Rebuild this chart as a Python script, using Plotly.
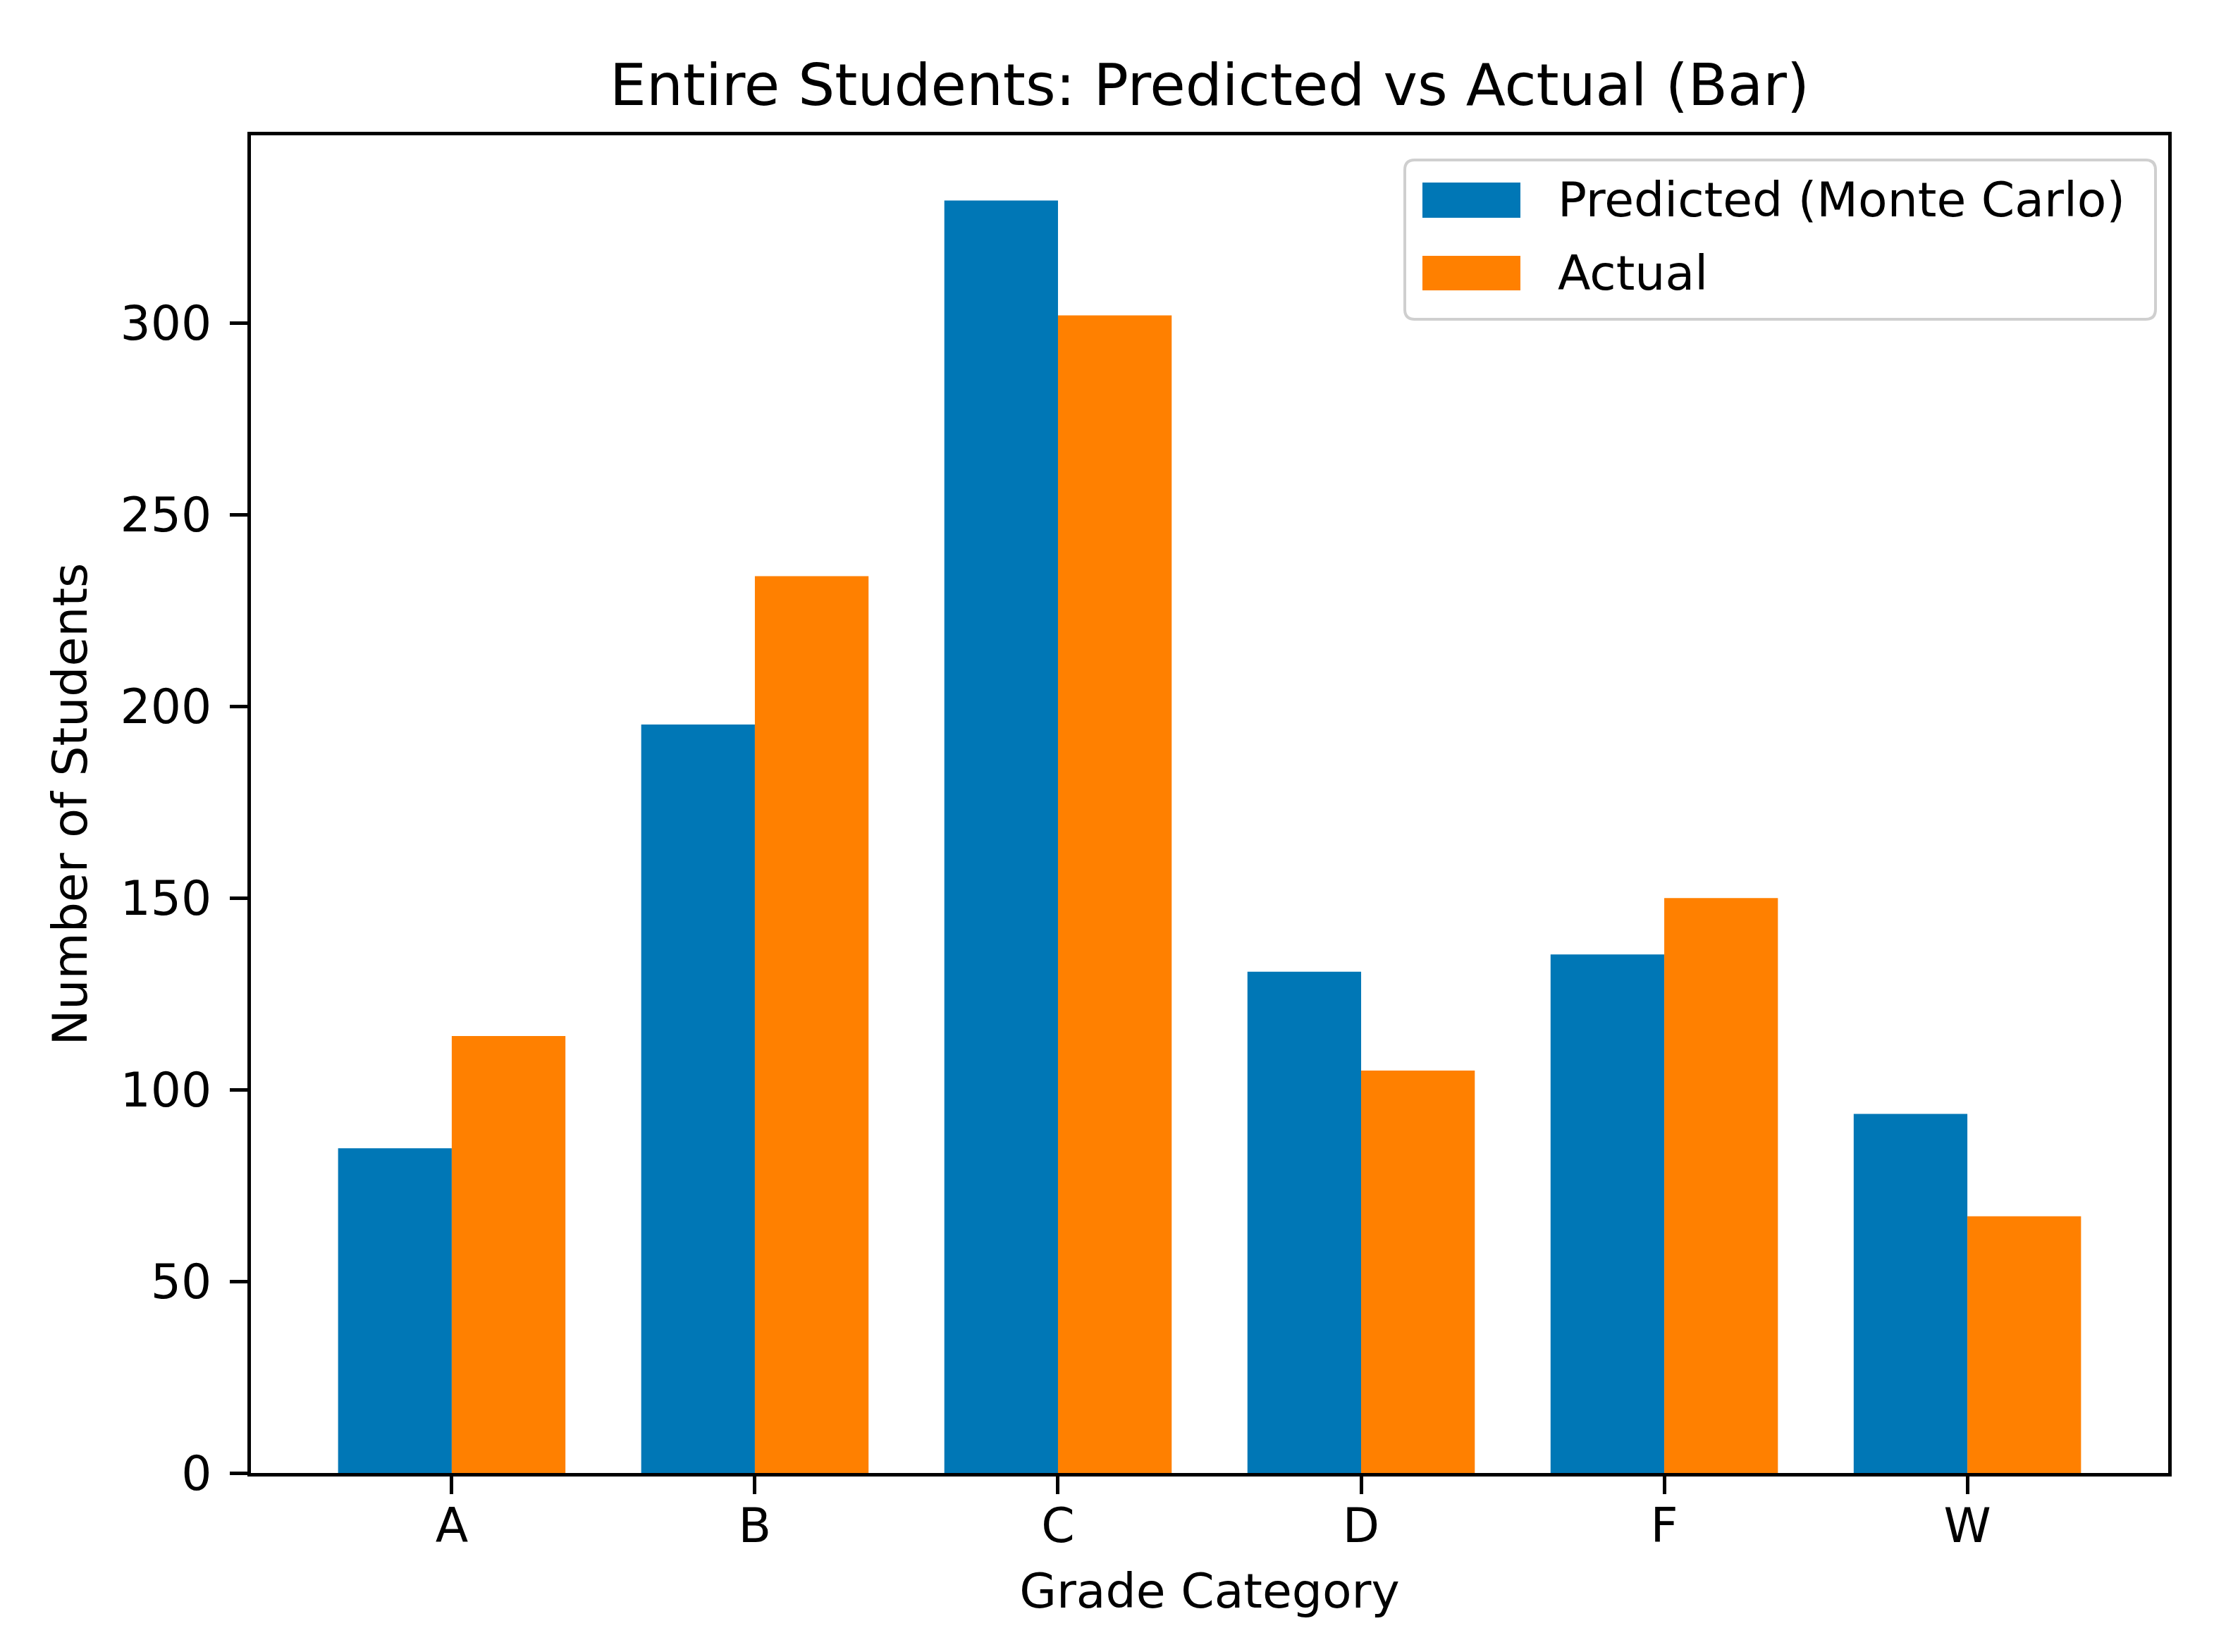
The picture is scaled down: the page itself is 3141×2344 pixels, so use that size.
import plotly.graph_objects as go

# ---- data ----
categories = ["A", "B", "C", "D", "F", "W"]
predicted = [84.7, 195.3, 332.0, 130.8, 135.3, 93.7]
actual = [114, 234, 302, 105, 150, 67]
series_names = ["Predicted (Monte Carlo)", "Actual"]
series_colors = ["#0077B6", "#FF8000"]
y_ticks = [0, 50, 100, 150, 200, 250, 300]

# ---- layout geometry (pixels) ----
W, H = 3141, 2344
L, R, T, B = 356, 3076, 192, 2090
FONT = "DejaVu Sans"
FS = 68


def px(x):
    return (x - L) / (R - L)


def py(y):
    return (B - y) / (B - T)


fig = go.Figure()
bar_w = 0.375
for vals, name, color, off in zip([predicted, actual], series_names, series_colors, [-bar_w, 0.0]):
    fig.add_trace(go.Bar(
        x=categories, y=vals, name=name,
        marker=dict(color=color, line=dict(width=0)),
        width=bar_w, offset=off, showlegend=False,
    ))

axis_common = dict(
    showline=True, mirror=True, linecolor="black", linewidth=5,
    ticks="outside", ticklen=25, tickwidth=5, tickcolor="black",
    tickfont=dict(family=FONT, size=FS, color="black"),
    showgrid=False, zeroline=False,
)

fig.update_layout(
    width=W, height=H,
    margin=dict(l=L, r=W - R, t=T, b=H - B, pad=0),
    paper_bgcolor="white", plot_bgcolor="white",
    barmode="overlay",
    font=dict(family=FONT, color="black"),
    title=dict(text="Entire Students: Predicted vs Actual (Bar)",
               font=dict(family=FONT, size=82, color="black"),
               x=0.5, xref="paper", xanchor="center",
               y=1 - 120 / H, yref="container", yanchor="middle"),
    xaxis=dict(type="category", range=[-0.6625, 5.6625], ticklabelstandoff=-14,
               title=dict(text="Grade Category", font=dict(family=FONT, size=FS, color="black"), standoff=32),
               **axis_common),
    yaxis=dict(range=[0, 349], tickvals=y_ticks, ticktext=[str(v) for v in y_ticks],
               ticklabelstandoff=12,
               title=dict(text="Number of Students", font=dict(family=FONT, size=FS, color="black"), standoff=26),
               **axis_common),
    showlegend=False,
)

# ---- legend (drawn manually to match the large swatches) ----
bx0, bx1, by0, by1 = 1993, 3058, 227, 453
rad = 14
x0, x1 = px(bx0), px(bx1)
y0, y1 = py(by1), py(by0)
rx = rad / (R - L)
ry = rad / (B - T)
path = (f"M {x0+rx},{y0} L {x1-rx},{y0} Q {x1},{y0} {x1},{y0+ry} "
        f"L {x1},{y1-ry} Q {x1},{y1} {x1-rx},{y1} L {x0+rx},{y1} "
        f"Q {x0},{y1} {x0},{y1-ry} L {x0},{y0+ry} Q {x0},{y0} {x0+rx},{y0} Z")
fig.add_shape(type="path", path=path, xref="paper", yref="paper",
              line=dict(color="#cfcfcf", width=4), fillcolor="rgba(255,255,255,0.85)", layer="above")

sw_rows = [(259, 309), (363, 412)]
for (ya, yb), name, color in zip(sw_rows, series_names, series_colors):
    fig.add_shape(type="rect", xref="paper", yref="paper",
                  x0=px(2018), x1=px(2157), y0=py(yb), y1=py(ya),
                  fillcolor=color, line=dict(width=0), layer="above")
    fig.add_annotation(xref="paper", yref="paper", x=px(2208), y=py((ya + yb) / 2),
                       text=name, showarrow=False, xanchor="left", yanchor="middle",
                       font=dict(family=FONT, size=FS, color="black"))

fig.write_html("out.html")
